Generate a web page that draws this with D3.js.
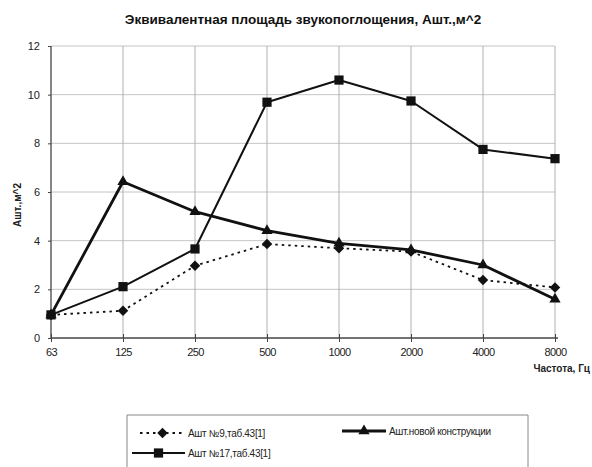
<!DOCTYPE html>
<html><head><meta charset="utf-8">
<script src="https://cdn.jsdelivr.net/npm/d3@7/dist/d3.min.js"></script>
<style>
html,body{margin:0;padding:0;background:#fff;}
svg{display:block;font-family:"Liberation Sans",Arial,sans-serif;}
</style></head>
<body><svg id="c" width="592" height="467"></svg>
<script>
const categories = ["63","125","250","500","1000","2000","4000","8000"];
const seriesNames = ["Ашт №9,таб.43[1]","Ашт №17,таб.43[1]","Ашт.новой конструкции"];
const valuesNo9 = [0.95,1.12,2.97,3.86,3.69,3.55,2.38,2.08];
const valuesNo17 = [0.95,2.11,3.66,9.69,10.6,9.74,7.75,7.37];
const valuesNew = [0.95,6.42,5.19,4.41,3.89,3.62,3.0,1.59];
const yTicks = [0,2,4,6,8,10,12];
const title = "Эквивалентная площадь звукопоглощения, Ашт.,м^2";
const yLabel = "Ашт.,м^2";
const xLabel = "Частота, Гц";

const svg = d3.select("#c");
const x = d3.scalePoint().domain(categories).range([51,555]).padding(0);
const y = d3.scaleLinear().domain([0,12]).range([338,46]);

// gridlines
const g = svg.append("g");
g.selectAll("line.h").data(yTicks.filter(d=>d>0)).join("line")
 .attr("x1",51).attr("x2",555).attr("y1",d=>y(d)).attr("y2",d=>y(d))
 .attr("stroke","#c4c4c4").attr("stroke-width",1);
g.selectAll("line.v").data(categories.slice(1)).join("line")
 .attr("x1",d=>x(d)).attr("x2",d=>x(d)).attr("y1",46).attr("y2",338)
 .attr("stroke","#b0b0b0").attr("stroke-width",1);

// axes
const xAxis = d3.axisBottom(x).tickSize(4).tickPadding(6);
const xa = svg.append("g").attr("transform","translate(0,338)").call(xAxis);
xa.select(".domain").attr("d","M51,0H558").attr("stroke","#444").attr("stroke-width",1.3);
xa.selectAll(".tick line").attr("y1",-4).attr("stroke","#444");
xa.selectAll("text").attr("font-size",11).attr("fill","#222").attr("letter-spacing","-0.6");

const yAxis = d3.axisLeft(y).tickValues(yTicks).tickSize(3).tickPadding(8).tickFormat(d3.format("d"));
const ya = svg.append("g").attr("transform","translate(51,0)").call(yAxis);
ya.select(".domain").attr("d","M0,46V338").attr("stroke","#444").attr("stroke-width",1.3);
ya.selectAll(".tick line").attr("stroke","#444");
ya.selectAll("text").attr("font-size",11).attr("fill","#222");

// title & labels
svg.append("text").attr("x",303).attr("y",24).attr("text-anchor","middle")
 .attr("font-size",13.5).attr("font-weight","bold").attr("fill","#111").text(title);
svg.append("text").attr("transform","translate(21,205) rotate(-90)").attr("text-anchor","middle")
 .attr("font-size",10).attr("font-weight","bold").attr("fill","#222").text(yLabel);
svg.append("text").attr("x",590).attr("y",372).attr("text-anchor","end")
 .attr("font-size",10).attr("font-weight","bold").attr("fill","#222").text(xLabel);

const line = d3.line().x((d,i)=>x(categories[i])).y(d=>y(d));

const series = [
 {name:seriesNames[0], vals:valuesNo9, w:1.8, dash:"2.5,4", marker:"diamond"},
 {name:seriesNames[1], vals:valuesNo17, w:2, dash:null, marker:"square"},
 {name:seriesNames[2], vals:valuesNew, w:2.8, dash:null, marker:"triangle"}
];
const sym = {diamond:d3.symbolSquare, square:d3.symbolSquare, triangle:d3.symbolTriangle};
const size = {diamond:55, square:85, triangle:55};
const rot = {diamond:45, square:0, triangle:0};

series.forEach(s=>{
  svg.append("path").datum(s.vals).attr("d",line).attr("fill","none")
   .attr("stroke","#111").attr("stroke-width",s.w).attr("stroke-dasharray",s.dash)
   .attr("stroke-linejoin","round");
});
series.forEach(s=>{
  svg.append("g").selectAll("path").data(s.vals).join("path")
   .attr("transform",(d,i)=>`translate(${x(categories[i])},${y(d)}) rotate(${rot[s.marker]})`)
   .attr("d",d3.symbol().type(sym[s.marker]).size(size[s.marker])).attr("fill","#111");
});

// legend
const lg = svg.append("g");
lg.append("path").attr("d","M127,467V415H528V467").attr("fill","none").attr("stroke","#888").attr("stroke-width",1);
const items = [
 {s:series[0], x0:140, x1:185, y:433},
 {s:series[2], x0:342, x1:386, y:431},
 {s:series[1], x0:132, x1:185, y:453}
];
items.forEach(it=>{
  lg.append("line").attr("x1",it.x0).attr("x2",it.x1).attr("y1",it.y).attr("y2",it.y)
   .attr("stroke","#111").attr("stroke-width",it.s.w).attr("stroke-dasharray",it.s.dash);
  lg.append("path").attr("transform",`translate(${(it.x0+it.x1)/2},${it.y}) rotate(${rot[it.s.marker]})`)
   .attr("d",d3.symbol().type(sym[it.s.marker]).size(size[it.s.marker])).attr("fill","#111");
  lg.append("text").attr("x",it.x1+3).attr("y",it.y+3.5).attr("font-size",10)
   .attr("fill","#222").attr("letter-spacing","-0.3").text(it.s.name);
});
</script></body></html>
